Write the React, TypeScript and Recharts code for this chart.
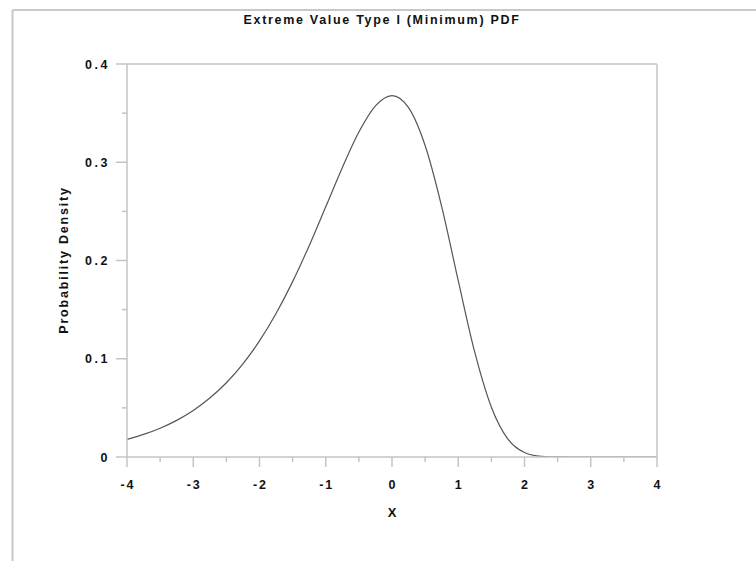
import { LineChart, Line, XAxis, YAxis } from 'recharts';

// x positions and density
const xValues = [
  -4, -3.75, -3.5, -3.25, -3, -2.75, -2.5, -2.25, -2, -1.75, -1.5, -1.25, -1, -0.75, -0.5, -0.25,
  0, 0.25, 0.5, 0.75, 1, 1.25, 1.5, 1.75, 2, 2.25, 2.5, 2.75, 3, 3.25, 3.5, 3.75, 4,
];
const densityValues = [
  0.018, 0.023, 0.0293, 0.0373, 0.0474, 0.06, 0.0756, 0.0949, 0.1182, 0.1461, 0.1785, 0.2151,
  0.2547, 0.2945, 0.3307, 0.3574, 0.3679, 0.3556, 0.317, 0.2549, 0.1794, 0.1064, 0.0507, 0.0182,
  0.0046, 0.0007, 0.0001, 0, 0, 0, 0, 0, 0,
];

const xTicks = [-4, -3.5, -3, -2.5, -2, -1.5, -1, -0.5, 0, 0.5, 1, 1.5, 2, 2.5, 3, 3.5, 4];
const yTicks = [0, 0.05, 0.1, 0.15, 0.2, 0.25, 0.3, 0.35, 0.4];

const title = 'Extreme Value Type I (Minimum) PDF';
const xLabel = 'X';
const yLabel = 'Probability Density';

const data = xValues.map((x, i) => ({ x, y: densityValues[i] }));

const axisColor = '#c4c4c4';
const font = '"Liberation Sans", Arial, sans-serif';

function XTick(props: any) {
  const { x, y, payload } = props;
  const v = payload.value as number;
  const major = Number.isInteger(v);
  return (
    <g>
      <line x1={x} y1={y} x2={x} y2={y + (major ? 10 : 5)} stroke={axisColor} strokeWidth={1.5} />
      {major && (
        <text x={x + 1} y={y + 32} textAnchor="middle" fontSize={12.5} fontWeight="bold" fill="#111" fontFamily={font} letterSpacing={2}>
          {v}
        </text>
      )}
    </g>
  );
}

function YTick(props: any) {
  const { x, y, payload } = props;
  const v = payload.value as number;
  const major = Math.abs(v * 10 - Math.round(v * 10)) < 1e-6;
  return (
    <g>
      <line x1={x} y1={y} x2={x - (major ? 11 : 5)} y2={y} stroke={axisColor} strokeWidth={1.5} />
      {major && (
        <text x={x - 17} y={y + 4.5} textAnchor="end" fontSize={12.5} fontWeight="bold" fill="#111" fontFamily={font} letterSpacing={2.5}>
          {v === 0 ? '0' : v.toFixed(1)}
        </text>
      )}
    </g>
  );
}

export default function App() {
  return (
    <div style={{ position: 'absolute', left: 0, top: 0, width: 756, height: 561, background: '#fff' }}>
      <svg width={756} height={561} style={{ position: 'absolute', left: 0, top: 0 }}>
        <line x1={12.5} y1={10} x2={756} y2={10} stroke="#c8c8c8" strokeWidth={2} />
        <line x1={12.5} y1={10} x2={12.5} y2={561} stroke="#c8c8c8" strokeWidth={2} />
        <text x={382} y={24} textAnchor="middle" fontSize={12.5} fontWeight="bold" fill="#111" fontFamily={font} letterSpacing={1.7}>
          {title}
        </text>
        <text x={392} y={517} textAnchor="middle" fontSize={13} fontWeight="bold" fill="#111" fontFamily={font}>
          {xLabel}
        </text>
        <text
          x={0}
          y={0}
          transform="translate(68 260) rotate(-90)"
          textAnchor="middle"
          fontSize={12.5}
          fontWeight="bold"
          fill="#111"
          fontFamily={font}
          letterSpacing={1.8}
        >
          {yLabel}
        </text>
      </svg>
      <div style={{ position: 'absolute', left: 0, top: 0 }}>
        <LineChart width={756} height={561} data={data} margin={{ top: 63, right: 98, bottom: 74, left: 67 }}>
          <XAxis
            dataKey="x"
            type="number"
            domain={[-4, 4]}
            ticks={xTicks}
            interval={0}
            height={30}
            tickSize={0}
            tickMargin={0}
            tickLine={false}
            axisLine={{ stroke: axisColor, strokeWidth: 1.5 }}
            tick={<XTick />}
            allowDataOverflow
          />
          <XAxis
            xAxisId="top"
            dataKey="x"
            type="number"
            domain={[-4, 4]}
            orientation="top"
            height={1}
            tick={false}
            tickLine={false}
            axisLine={{ stroke: axisColor, strokeWidth: 1.5 }}
          />
          <YAxis
            type="number"
            domain={[0, 0.4]}
            ticks={yTicks}
            interval={0}
            width={60}
            tickSize={0}
            tickMargin={0}
            tickLine={false}
            axisLine={{ stroke: axisColor, strokeWidth: 1.5 }}
            tick={<YTick />}
            allowDataOverflow
          />
          <YAxis
            yAxisId="right"
            orientation="right"
            type="number"
            domain={[0, 0.4]}
            width={1}
            tick={false}
            tickLine={false}
            axisLine={{ stroke: axisColor, strokeWidth: 1.5 }}
          />
          <Line
            dataKey="y"
            type="monotone"
            stroke="#555"
            strokeWidth={1.2}
            dot={false}
            isAnimationActive={false}
          />
        </LineChart>
      </div>
    </div>
  );
}
